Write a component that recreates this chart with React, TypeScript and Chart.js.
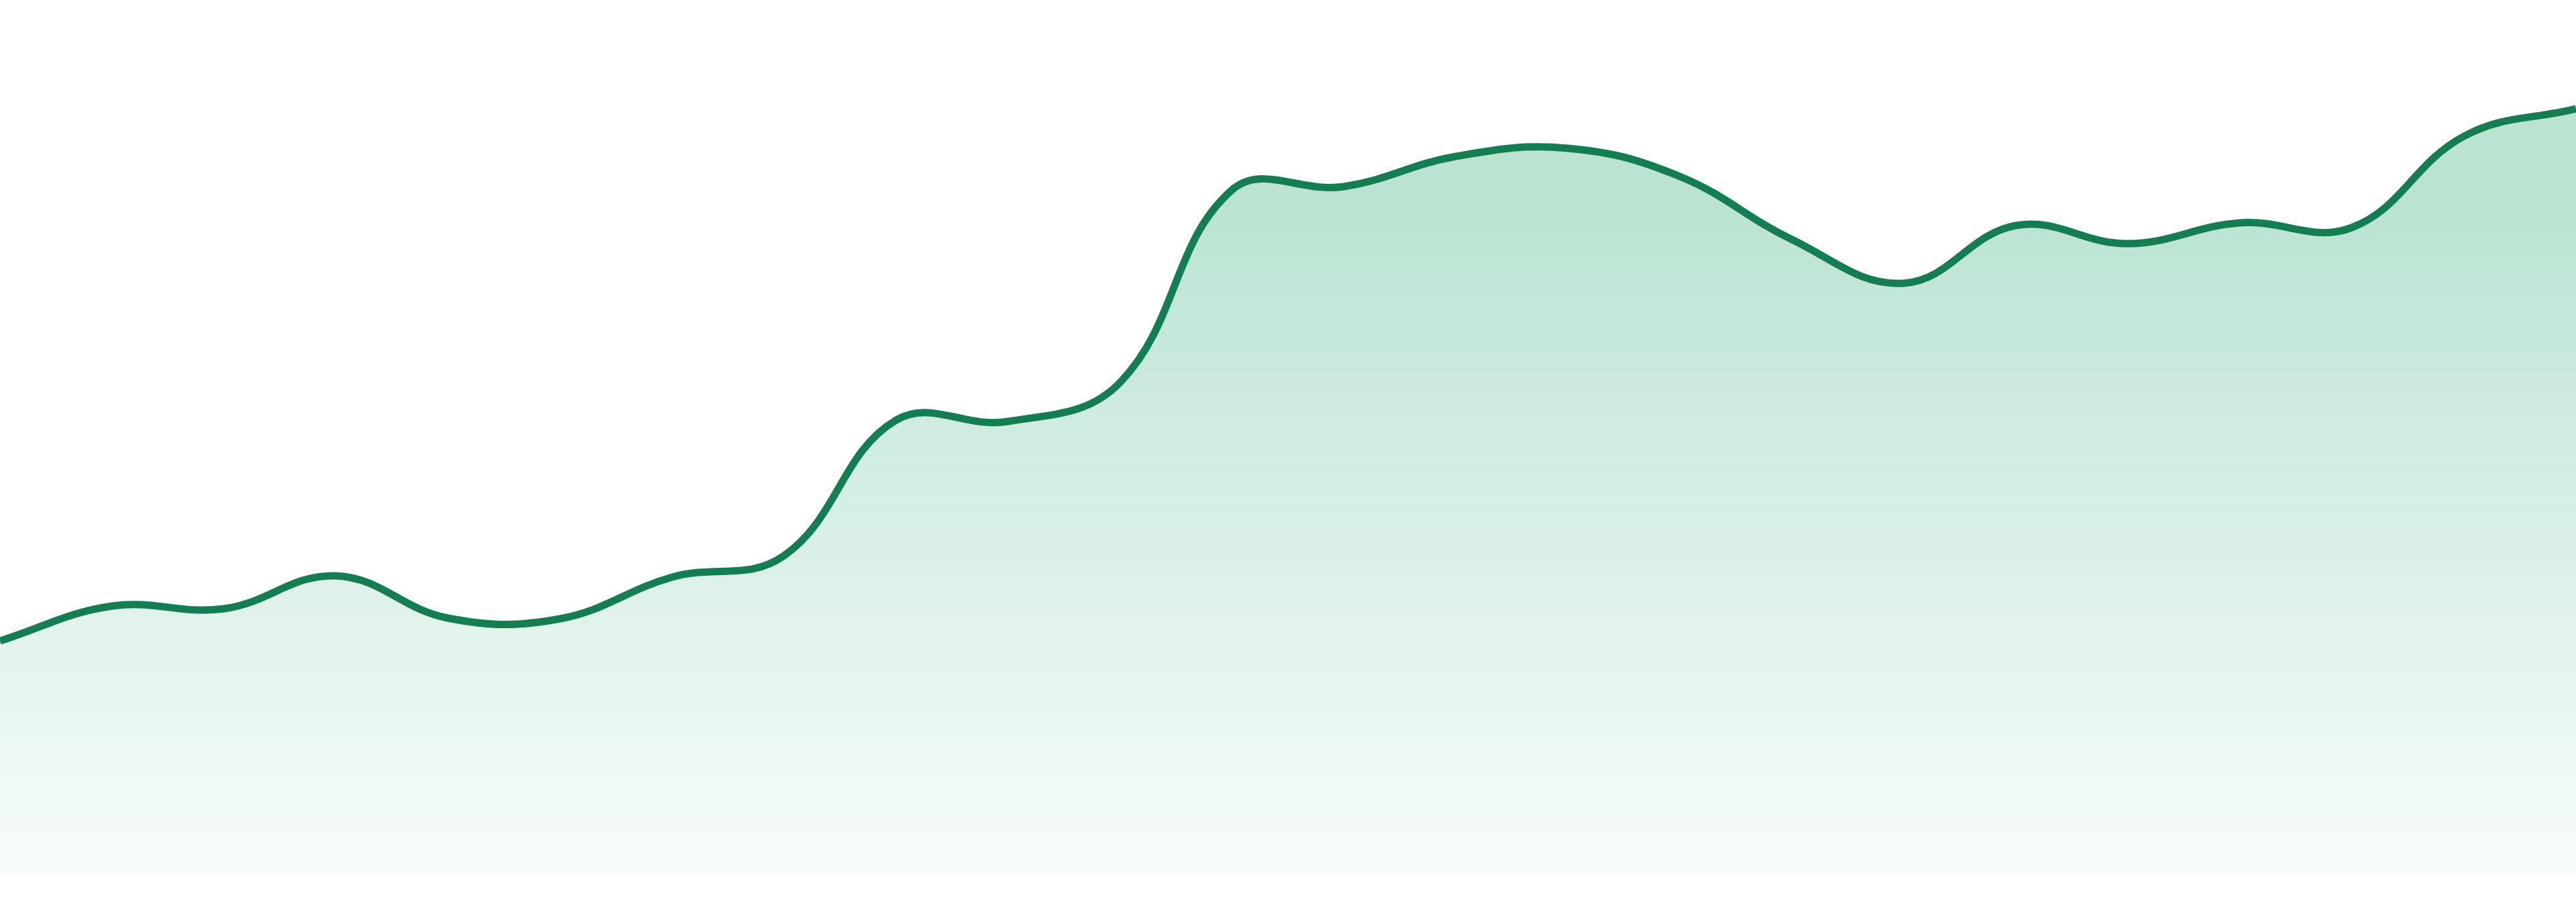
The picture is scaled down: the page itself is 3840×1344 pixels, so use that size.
import React, { useEffect, useRef } from "react";
import { Chart, registerables } from "chart.js";

Chart.register(...registerables);

// one point per period
const periods = [
  "P1", "P2", "P3", "P4", "P5", "P6", "P7", "P8",
  "P9", "P10", "P11", "P12", "P13", "P14", "P15", "P16",
  "P17", "P18", "P19", "P20", "P21", "P22", "P23", "P24",
];

const values = [
  35.0, 40.2, 39.8, 44.7, 38.4, 38.3, 44.5, 47.7,
  67.9, 67.7, 73.5, 102.2, 102.7, 107.2, 108.4, 104.2,
  94.8, 88.3, 96.9, 94.2, 97.3, 96.6, 110.2, 114.3,
];

const yMin = 0;
const yMax = 130.5;

const LINE = "#147d52";

const App = () => {
  const ref = useRef<HTMLCanvasElement | null>(null);

  useEffect(() => {
    document.body.style.margin = "0";
    if (!ref.current) return;

    const chart = new Chart(ref.current, {
      type: "line",
      data: {
        labels: periods,
        datasets: [
          {
            data: values,
            borderColor: LINE,
            borderWidth: 11,
            tension: 0.4,
            pointRadius: 0,
            pointHoverRadius: 0,
            fill: "start",
            backgroundColor: (ctx: any) => {
              const area = ctx.chart.chartArea;
              if (!area) return "rgba(26,163,104,0.3)";
              const g = ctx.chart.ctx.createLinearGradient(0, 300, 0, area.bottom);
              g.addColorStop(0, "rgba(26,163,104,0.3)");
              g.addColorStop(1, "rgba(26,163,104,0.03)");
              return g;
            },
          },
        ],
      },
      options: {
        animation: false,
        responsive: true,
        maintainAspectRatio: false,
        layout: { padding: 0 },
        plugins: {
          legend: { display: false },
          tooltip: { enabled: false },
        },
        scales: {
          x: { display: false, offset: false },
          y: { display: false, min: yMin, max: yMax },
        },
      },
    });

    return () => {
      chart.destroy();
    };
  }, []);

  return (
    <div style={{ width: "3840px", height: "1305px", position: "relative" }}>
      <canvas ref={ref} />
    </div>
  );
};

export default App;
